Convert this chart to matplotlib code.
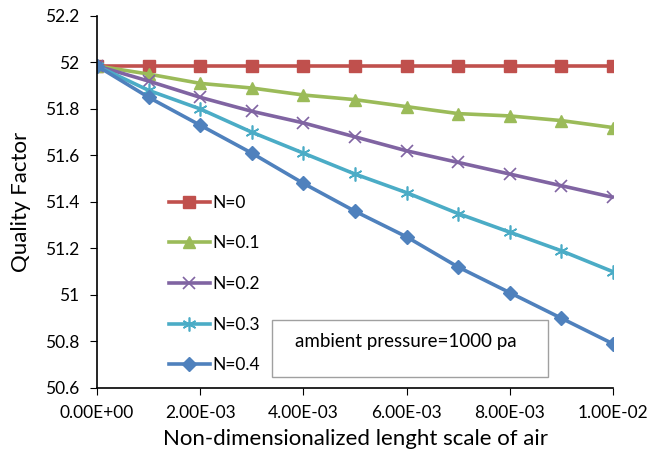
import matplotlib
matplotlib.use('Agg')
import matplotlib.pyplot as plt
from matplotlib.patches import Rectangle

plt.rcParams['font.family'] = ['Lato', 'DejaVu Sans']

x_vals = [0, 0.001, 0.002, 0.003, 0.004, 0.005, 0.006, 0.007, 0.008, 0.009, 0.01]
n0 = [51.985] * 11
n01 = [51.985, 51.95, 51.91, 51.89, 51.86, 51.84, 51.81, 51.78, 51.77, 51.75, 51.72]
n02 = [51.985, 51.92, 51.85, 51.79, 51.74, 51.68, 51.62, 51.57, 51.52, 51.47, 51.42]
n03 = [51.985, 51.88, 51.80, 51.70, 51.61, 51.52, 51.44, 51.35, 51.27, 51.19, 51.10]
n04 = [51.985, 51.85, 51.73, 51.61, 51.48, 51.36, 51.25, 51.12, 51.01, 50.90, 50.79]

x_ticks = [0, 0.002, 0.004, 0.006, 0.008, 0.01]
x_labels = ['0.00E+00', '2.00E-03', '4.00E-03', '6.00E-03', '8.00E-03', '1.00E-02']
y_ticks = [50.6, 50.8, 51, 51.2, 51.4, 51.6, 51.8, 52, 52.2]
y_labels = ['50.6', '50.8', '51', '51.2', '51.4', '51.6', '51.8', '52', '52.2']

fig = plt.figure(figsize=(6.49, 4.61), dpi=100)
ax = fig.add_axes([0.1495, 0.1584, 0.795, 0.807])

lw = 2.6
ax.plot(x_vals, n0, color='#C0504D', lw=lw, marker='s', ms=9, label='N=0')
ax.plot(x_vals, n01, color='#9BBB59', lw=lw, marker='^', ms=9, label='N=0.1')
ax.plot(x_vals, n02, color='#8064A2', lw=lw, marker='x', ms=9, mew=1.2, label='N=0.2')
ax.plot(x_vals, n03, color='#4BACC6', lw=lw, marker=(6, 2, 0), ms=10, mew=1.2, label='N=0.3')
ax.plot(x_vals, n04, color='#4F81BD', lw=lw, marker='D', ms=7, label='N=0.4')

ax.set_xlim(0, 0.01)
ax.set_ylim(50.6, 52.2)
ax.set_xticks(x_ticks)
ax.set_xticklabels(x_labels)
ax.set_yticks(y_ticks)
ax.set_yticklabels(y_labels)
ax.tick_params(labelsize=12.5, color='black', direction='out', length=5)
ax.tick_params(axis='y', pad=8)
ax.tick_params(axis='x', pad=7)
for s in ['top', 'right']:
    ax.spines[s].set_visible(False)
ax.spines['left'].set_linewidth(1.2)
ax.spines['bottom'].set_linewidth(1.2)

ax.set_xlabel('Non-dimensionalized lenght scale of air', fontsize=16, labelpad=6)
ax.set_ylabel('Quality Factor', fontsize=16, labelpad=10)

ax.legend(loc='upper left', bbox_to_anchor=(0.122, 0.543), frameon=False,
          fontsize=12.5, labelspacing=1.42, handlelength=2.4, handletextpad=0.1,
          borderpad=0)

ax.add_patch(Rectangle((0.339, 0.030), 0.535, 0.153, transform=ax.transAxes,
                       fill=False, edgecolor='#A0A0A0', lw=1))
ax.text(0.384, 0.124, 'ambient pressure=1000 pa', transform=ax.transAxes,
        fontsize=13.5, va='center', ha='left')

fig.savefig('out.png', dpi=100)
